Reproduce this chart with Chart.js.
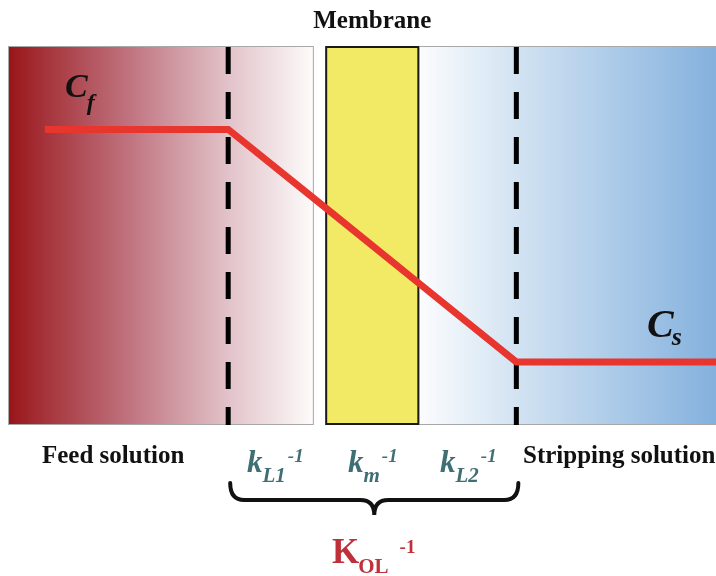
<!DOCTYPE html>
<html>
<head>
<meta charset="utf-8">
<title>Membrane transport profile</title>
<script src="https://cdn.jsdelivr.net/npm/chart.js@4.4.1/dist/chart.umd.min.js"></script>
<style>
  body { margin: 0; background: #ffffff; }
  #wrap { width: 716px; height: 576px; }
</style>
</head>
<body>
<div id="wrap"><canvas id="profileChart" width="716" height="576"></canvas></div>
<script>
// Concentration profile across the membrane (x: position, y: relative concentration)
const position = [5.2, 31.1, 44.8, 58.1, 71.8, 100];
const concentration = [0.78, 0.78, 0.574, 0.373, 0.166, 0.166];

// region boundaries along the x axis (same units as position)
const feedEnd = 43.2;
const membraneStart = 44.8;
const membraneEnd = 58.1;
const boundaryLayers = [31.1, 71.8];

const regionLabels = ["Feed solution", "Stripping solution"];
const resistanceLabels = [
  ["k", "L1", "-1"],
  ["k", "m", "-1"],
  ["k", "L2", "-1"],
];

const serif = '"Liberation Serif", "DejaVu Serif", serif';

// draws base text followed by optional subscript and superscript
function drawScripted(ctx, x, y, base, sub, sup, opt) {
  ctx.textAlign = "left";
  ctx.textBaseline = "alphabetic";
  ctx.font = opt.baseFont;
  ctx.fillText(base, x, y);
  let w = ctx.measureText(base).width;
  let subW = 0;
  if (sub) {
    ctx.font = opt.subFont;
    ctx.fillText(sub, x + w + (opt.subShift || 0), y + opt.subDy);
    subW = ctx.measureText(sub).width + (opt.subShift || 0);
  }
  if (sup) {
    ctx.font = opt.supFont;
    ctx.fillText(sup, x + w + subW + (opt.supShift || 0), y + opt.supDy);
  }
}

const backdrop = {
  id: "backdrop",
  beforeDatasetsDraw(chart) {
    const ctx = chart.ctx;
    const xs = chart.scales.x;
    const area = chart.chartArea;
    const top = area.top, bottom = area.bottom, h = bottom - top;

    ctx.save();
    // feed side
    const fx0 = xs.getPixelForValue(0), fx1 = xs.getPixelForValue(feedEnd);
    let g = ctx.createLinearGradient(fx0, 0, fx1, 0);
    g.addColorStop(0, "#981418");
    g.addColorStop(0.12, "#a5333a");
    g.addColorStop(0.4, "#c07480");
    g.addColorStop(0.72, "#e2c3c9");
    g.addColorStop(1, "#fdfbfb");
    ctx.fillStyle = g;
    ctx.fillRect(fx0, top, fx1 - fx0, h);
    ctx.strokeStyle = "#a8a8a8";
    ctx.lineWidth = 1;
    ctx.strokeRect(fx0 + 0.5, top + 0.5, fx1 - fx0 - 1, h - 1);

    // stripping side
    const sx0 = xs.getPixelForValue(membraneEnd), sx1 = xs.getPixelForValue(100);
    g = ctx.createLinearGradient(sx0, 0, sx1, 0);
    g.addColorStop(0, "#fbfcfe");
    g.addColorStop(0.33, "#d2e3f2");
    g.addColorStop(1, "#84b1de");
    ctx.fillStyle = g;
    ctx.fillRect(sx0, top, sx1 - sx0, h);
    ctx.beginPath();
    ctx.moveTo(sx0, top + 0.5);
    ctx.lineTo(sx1, top + 0.5);
    ctx.moveTo(sx0, bottom - 0.5);
    ctx.lineTo(sx1, bottom - 0.5);
    ctx.stroke();

    // membrane
    const mx0 = xs.getPixelForValue(membraneStart), mx1 = xs.getPixelForValue(membraneEnd);
    ctx.fillStyle = "#f2e964";
    ctx.fillRect(mx0, top, mx1 - mx0, h);
    ctx.strokeStyle = "#1a1a1a";
    ctx.lineWidth = 2;
    ctx.strokeRect(mx0 + 1, top + 1, mx1 - mx0 - 2, h - 2);

    // boundary layer edges
    ctx.strokeStyle = "#000000";
    ctx.lineWidth = 5;
    ctx.setLineDash([27, 18]);
    boundaryLayers.forEach(function (b) {
      const px = xs.getPixelForValue(b);
      ctx.beginPath();
      ctx.moveTo(px, top + 1);
      ctx.lineTo(px, bottom);
      ctx.stroke();
    });
    ctx.restore();
  },
  afterDraw(chart) {
    const ctx = chart.ctx;
    const xs = chart.scales.x;
    const ys = chart.scales.y;
    const area = chart.chartArea;
    ctx.save();

    // title over the membrane
    const mc = (xs.getPixelForValue(membraneStart) + xs.getPixelForValue(membraneEnd)) / 2;
    ctx.fillStyle = "#111111";
    ctx.font = "bold 25px " + serif;
    ctx.textAlign = "center";
    ctx.textBaseline = "alphabetic";
    ctx.fillText("Membrane", mc, area.top - 18);

    // C_f and C_s
    ctx.fillStyle = "#111111";
    drawScripted(ctx, 65, ys.getPixelForValue(concentration[0]) - 32, "C", "f", null, {
      baseFont: "bold italic 34px " + serif,
      subFont: "bold italic 24px " + serif,
      subDy: 13, subShift: -1,
    });
    drawScripted(ctx, 647, ys.getPixelForValue(concentration[5]) - 25, "C", "s", null, {
      baseFont: "bold italic 40px " + serif,
      subFont: "bold italic 26px " + serif,
      subDy: 8, subShift: -2,
    });

    // region names
    ctx.font = "bold 25px " + serif;
    ctx.textAlign = "left";
    ctx.fillText(regionLabels[0], 42, area.bottom + 38);
    ctx.fillText(regionLabels[1], 523, area.bottom + 38, 193);

    // resistances
    ctx.fillStyle = "#3f6e74";
    const kx = [247, 348, 440];
    const kOpt = {
      baseFont: "bold italic 31px " + serif,
      subFont: "bold italic 21px " + serif,
      supFont: "bold italic 19px " + serif,
      subDy: 10, supDy: -10, supShift: 2,
    };
    resistanceLabels.forEach(function (r, i) {
      drawScripted(ctx, kx[i], area.bottom + 47, r[0], r[1], r[2], kOpt);
    });

    // brace spanning the boundary layers
    const bx0 = xs.getPixelForValue(boundaryLayers[0]) + 2;
    const bx1 = xs.getPixelForValue(boundaryLayers[1]) + 2;
    const bm = (bx0 + bx1) / 2;
    const y0 = area.bottom + 58, y1 = area.bottom + 75, y2 = area.bottom + 90, r = 14;
    ctx.strokeStyle = "#111111";
    ctx.lineWidth = 4;
    ctx.lineCap = "round";
    ctx.beginPath();
    ctx.moveTo(bx0, y0);
    ctx.quadraticCurveTo(bx0, y1, bx0 + r, y1);
    ctx.lineTo(bm - r, y1);
    ctx.quadraticCurveTo(bm, y1, bm, y2);
    ctx.quadraticCurveTo(bm, y1, bm + r, y1);
    ctx.lineTo(bx1 - r, y1);
    ctx.quadraticCurveTo(bx1, y1, bx1, y0);
    ctx.stroke();

    // overall resistance
    ctx.fillStyle = "#c0303a";
    drawScripted(ctx, 332, area.bottom + 138, "K", "OL", "-1", {
      baseFont: "bold 35px " + serif,
      subFont: "bold 21px " + serif,
      supFont: "bold 19px " + serif,
      subDy: 10, supDy: -10, subShift: -1, supShift: 11,
    });
    ctx.restore();
  },
};

const ctx = document.getElementById("profileChart").getContext("2d");

const profileChart = new Chart(ctx, {
  type: "line",
  data: {
    datasets: [
      {
        label: "Concentration",
        data: position.map(function (p, i) {
          return { x: p, y: concentration[i] };
        }),
        borderColor: "#e8352d",
        borderWidth: 7,
        pointRadius: 0,
        tension: 0,
        fill: false,
      },
    ],
  },
  options: {
    responsive: false,
    animation: false,
    layout: { padding: { left: 8, top: 46, right: 0, bottom: 151 } },
    plugins: {
      legend: { display: false },
      tooltip: { enabled: false },
      title: { display: false },
    },
    scales: {
      x: { type: "linear", min: 0, max: 100, display: false },
      y: { min: 0, max: 1, display: false },
    },
  },
  plugins: [backdrop],
});
</script>
</body>
</html>
